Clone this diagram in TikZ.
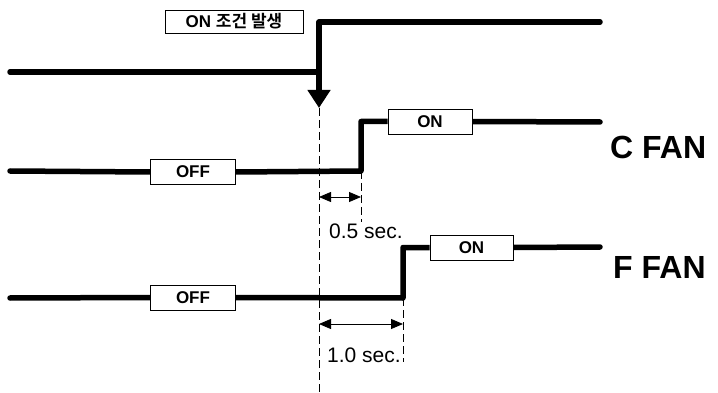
\documentclass[tikz,border=0pt]{standalone}
\usepackage{fontspec}
\setmainfont{Liberation Sans}
\newfontfamily\krfont{Noto Sans CJK KR}[BoldFont={Noto Sans CJK KR Bold}]
\usetikzlibrary{arrows.meta,positioning,backgrounds}

\begin{document}
\begin{tikzpicture}[
    x=1pt, y=-1pt,
    font=\fontsize{17}{19}\selectfont\bfseries,
    sig/.style={line width=5.5pt, line join=round},
    state/.style={draw, fill=white, line width=0.8pt, minimum width=85pt, minimum height=25pt, inner sep=0pt},
    guide/.style={dash pattern=on 8pt off 4pt, line width=0.8pt},
    span/.style={{Triangle[length=12pt,width=10pt]}-{Triangle[length=12pt,width=10pt]}, line width=0.8pt},
    fan/.style={font=\fontsize{32}{34}\selectfont\bfseries, anchor=west, inner sep=0pt},
    delay/.style={font=\fontsize{21}{23}\selectfont, inner sep=0pt}
]
\useasboundingbox (0,0) rectangle (718,393);

\node[state, minimum width=138pt, minimum height=23pt] (cond) at (234,21.5) {ON {\krfont 조건 발생}};
\node[state] (coff) at (193,172) {OFF};
\node[state, minimum width=84pt] (con) at (430,121.5) {ON};
\node[state] (foff) at (193,297.5) {OFF};
\node[state, minimum width=83pt] (fon) at (471.5,247.5) {ON};

\coordinate (t0) at (10,72);
\coordinate (trise) at (319,72);
\coordinate (thigh) at (319,22);
\coordinate (t1) at (600,22);
\coordinate (tip) at (319,108);
\coordinate (dend) at (319,393);
\coordinate (c0) at (10,171);
\coordinate (crise) at (361,171);
\coordinate (c1) at (600,122);
\coordinate (f0) at (10,298);
\coordinate (frise) at (403,298);
\coordinate (f1) at (600,247);

\coordinate (cg) at (361,222);
\coordinate (fg) at (403,362);
\coordinate (ca) at (319,197);
\coordinate (cb) at (361,197);
\coordinate (fa) at (319,324);
\coordinate (fb) at (403,324);

\begin{scope}[on background layer]
\draw[sig, line cap=round] (t0) -- (trise) -- (thigh) -- (t1);
\draw[sig, line cap=round] (c0) -- (coff.west);
\draw[sig] (coff.east) -- (crise) |- (con.west);
\draw[sig, line cap=round] (con.east) -- (c1);
\draw[sig, line cap=round] (f0) -- (foff.west);
\draw[sig] (foff.east) -- (frise) |- (fon.west);
\draw[sig, line cap=round] (fon.east) -- (f1);
\end{scope}

\draw[line width=5.5pt, -{Triangle[length=18pt,width=22pt]}] (trise) -- (tip);
\draw[guide] (tip) -- (dend);
\draw[guide] (crise) -- (cg);
\draw[guide] (frise) -- (fg);
\draw[span] (ca) -- (cb);
\draw[span] (fa) -- (fb);

\node[delay] (d05) at (366,231) {0.5 sec.};
\node[delay] (d10) at (364,355) {1.0 sec.};
\node[fan] (cfan) at (610,147) {C FAN};
\node[fan] (ffan) at (613,267) {F FAN};
\end{tikzpicture}
\end{document}
